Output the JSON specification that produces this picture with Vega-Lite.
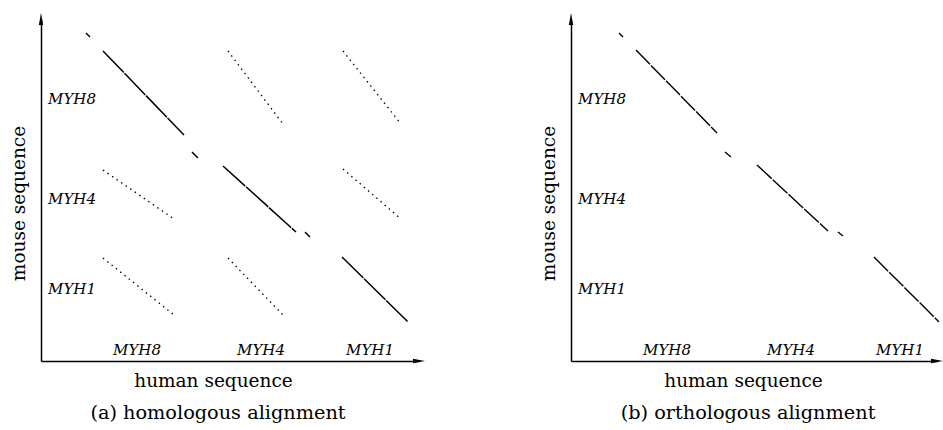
{
  "$schema": "https://vega.github.io/schema/vega-lite/v6.json",
  "background": "white",
  "padding": {"left": 9, "top": 13, "right": 0, "bottom": 5},
  "config": {
    "view": {"stroke": null},
    "concat": {"spacing": 114},
    "axis": {
      "labels": false, "ticks": false, "grid": false,
      "domainColor": "black", "domainWidth": 1.5,
      "titleFont": "DejaVu Serif", "titleFontSize": 18.5, "titleFontWeight": "normal", "titleColor": "black", "titlePadding": 10
    },
    "axisX": {"titleX": 172},
    "axisY": {"titleY": 184, "titlePadding": 13},
    "title": {"font": "DejaVu Serif", "fontSize": 19.3, "fontWeight": "normal", "color": "black", "orient": "bottom", "anchor": "middle", "offset": 14}
  },
  "datasets": {
    "segs": [
      {"panel": "a", "kind": "main", "x": 45, "y": 328, "x2": 49, "y2": 324},
      {"panel": "a", "kind": "main", "x": 62, "y": 310, "x2": 143, "y2": 226},
      {"panel": "a", "kind": "main", "x": 151, "y": 209, "x2": 157, "y2": 203},
      {"panel": "a", "kind": "main", "x": 182, "y": 195, "x2": 255, "y2": 129},
      {"panel": "a", "kind": "main", "x": 264, "y": 129, "x2": 269, "y2": 124},
      {"panel": "a", "kind": "main", "x": 301, "y": 104, "x2": 367, "y2": 39},
      {"panel": "a", "kind": "dot", "x": 187, "y": 310, "x2": 242, "y2": 237},
      {"panel": "a", "kind": "dot", "x": 302, "y": 310, "x2": 360, "y2": 237},
      {"panel": "a", "kind": "dot", "x": 62, "y": 191, "x2": 133, "y2": 142},
      {"panel": "a", "kind": "dot", "x": 302, "y": 192, "x2": 360, "y2": 142},
      {"panel": "a", "kind": "dot", "x": 62, "y": 103, "x2": 133, "y2": 46},
      {"panel": "a", "kind": "dot", "x": 187, "y": 103, "x2": 242, "y2": 46},
      {"panel": "b", "kind": "main", "x": 48, "y": 328, "x2": 52, "y2": 324},
      {"panel": "b", "kind": "main", "x": 65, "y": 311, "x2": 146, "y2": 228},
      {"panel": "b", "kind": "main", "x": 154, "y": 209, "x2": 160, "y2": 204},
      {"panel": "b", "kind": "main", "x": 186, "y": 196, "x2": 257, "y2": 130},
      {"panel": "b", "kind": "main", "x": 267, "y": 129, "x2": 272, "y2": 125},
      {"panel": "b", "kind": "main", "x": 303, "y": 104, "x2": 368, "y2": 39}
    ],
    "labels": [
      {"label": "MYH8", "x": 31, "y": 262},
      {"label": "MYH4", "x": 31, "y": 162},
      {"label": "MYH1", "x": 31, "y": 72},
      {"label": "MYH8", "x": 96, "y": 11},
      {"label": "MYH4", "x": 220, "y": 11},
      {"label": "MYH1", "x": 329, "y": 11}
    ]
  },
  "hconcat": [
    {
      "width": 378, "height": 342,
      "title": {"text": "(a) homologous alignment", "dx": -12},
      "layer": [
        {
          "data": {"name": "segs"},
          "transform": [{"filter": "datum.panel === 'a'"}],
          "mark": {"type": "rule", "color": "black"},
          "encoding": {
            "x": {"field": "x", "type": "quantitative", "scale": {"domain": [0, 378], "nice": false, "zero": false}, "axis": {"title": "human sequence"}},
            "y": {"field": "y", "type": "quantitative", "scale": {"domain": [0, 342], "nice": false, "zero": false}, "axis": {"title": "mouse sequence"}},
            "x2": {"field": "x2"},
            "y2": {"field": "y2"},
            "strokeDash": {"field": "kind", "type": "nominal", "scale": {"domain": ["main", "dot"], "range": [[30, 1], [1.5, 4]]}, "legend": null},
            "strokeWidth": {"field": "kind", "type": "nominal", "scale": {"domain": ["main", "dot"], "range": [1.5, 1.3]}, "legend": null}
          }
        },
        {
          "data": {"name": "labels"},
          "mark": {"type": "text", "font": "DejaVu Serif", "fontStyle": "italic", "fontSize": 15, "align": "center", "baseline": "middle", "color": "black"},
          "encoding": {
            "x": {"field": "x", "type": "quantitative"},
            "y": {"field": "y", "type": "quantitative"},
            "text": {"field": "label"}
          }
        },
        {
          "data": {"values": [{}]},
          "mark": {"type": "point", "shape": "M0,-1L-0.36,1L0.36,1Z", "filled": true, "color": "black", "opacity": 1, "size": 144},
          "encoding": {"x": {"datum": 0, "type": "quantitative"}, "y": {"datum": 342, "type": "quantitative"}}
        },
        {
          "data": {"values": [{}]},
          "mark": {"type": "point", "shape": "M1,0L-1,-0.36L-1,0.36Z", "filled": true, "color": "black", "opacity": 1, "size": 144},
          "encoding": {"x": {"datum": 378, "type": "quantitative"}, "y": {"datum": 0, "type": "quantitative"}}
        }
      ]
    },
    {
      "width": 366, "height": 342,
      "title": {"text": "(b) orthologous alignment", "dx": -6},
      "layer": [
        {
          "data": {"name": "segs"},
          "transform": [{"filter": "datum.panel === 'b'"}],
          "mark": {"type": "rule", "color": "black", "strokeWidth": 1.4, "strokeDash": [20, 1.5]},
          "encoding": {
            "x": {"field": "x", "type": "quantitative", "scale": {"domain": [0, 366], "nice": false, "zero": false}, "axis": {"title": "human sequence"}},
            "y": {"field": "y", "type": "quantitative", "scale": {"domain": [0, 342], "nice": false, "zero": false}, "axis": {"title": "mouse sequence"}},
            "x2": {"field": "x2"},
            "y2": {"field": "y2"}
          }
        },
        {
          "data": {"name": "labels"},
          "mark": {"type": "text", "font": "DejaVu Serif", "fontStyle": "italic", "fontSize": 15, "align": "center", "baseline": "middle", "color": "black"},
          "encoding": {
            "x": {"field": "x", "type": "quantitative"},
            "y": {"field": "y", "type": "quantitative"},
            "text": {"field": "label"}
          }
        },
        {
          "data": {"values": [{}]},
          "mark": {"type": "point", "shape": "M0,-1L-0.36,1L0.36,1Z", "filled": true, "color": "black", "opacity": 1, "size": 144},
          "encoding": {"x": {"datum": 0, "type": "quantitative"}, "y": {"datum": 342, "type": "quantitative"}}
        },
        {
          "data": {"values": [{}]},
          "mark": {"type": "point", "shape": "M1,0L-1,-0.36L-1,0.36Z", "filled": true, "color": "black", "opacity": 1, "size": 144},
          "encoding": {"x": {"datum": 366, "type": "quantitative"}, "y": {"datum": 0, "type": "quantitative"}}
        }
      ]
    }
  ]
}
